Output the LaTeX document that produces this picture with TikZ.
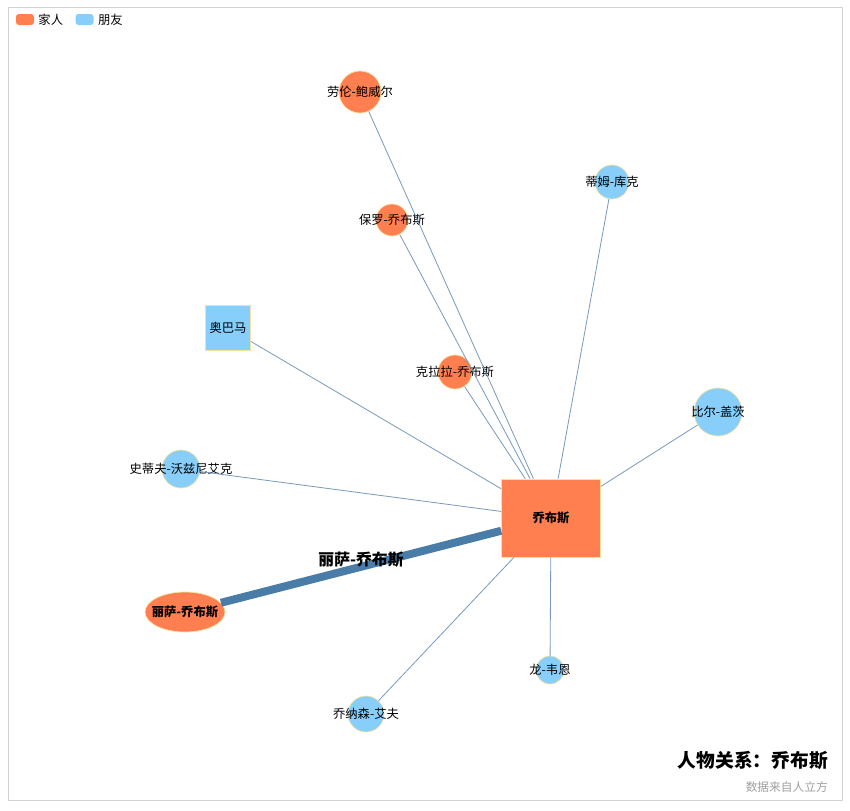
\documentclass[tikz,border=0pt]{standalone}
\usepackage{fontspec}
\newfontfamily\cjk{Noto Sans CJK SC}
\usetikzlibrary{shapes.geometric,positioning}
\definecolor{FamOrange}{HTML}{FF7F50}
\definecolor{FriendBlue}{HTML}{87CEFA}
\definecolor{NodeRim}{HTML}{F3E3A3}
\definecolor{LinkBlue}{HTML}{7A9BBB}
\definecolor{StrongBlue}{HTML}{4A7CA8}
\tikzset{
    person/.style = {circle, draw=NodeRim, line width=0.6pt, inner sep=0pt},
    family/.style = {person, fill=FamOrange},
    friend/.style = {person, fill=FriendBlue},
    lbl/.style = {font=\cjk\fontsize{10.5pt}{12pt}\selectfont, inner sep=0pt},
    boldlbl/.style = {font=\cjk\bfseries\fontsize{10.5pt}{12pt}\selectfont, inner sep=0pt},
    link/.style = {draw=LinkBlue, line width=0.7pt},
    strong/.style = {draw=StrongBlue, line width=6.8pt},
    legendkey/.style = {rectangle, rounded corners=2.5pt, minimum width=0.54cm, minimum height=0.33cm, inner sep=0pt}
}
\begin{document}
\begin{tikzpicture}[x=0.03cm, y=-0.03cm]
    \useasboundingbox (0,0) rectangle (850,810);
    \draw [gray!35, line width=0.6pt] (8,7) rectangle (842,800);
    % centre node
    \node [rectangle, fill=FamOrange, draw=NodeRim, line width=0.6pt, minimum width=2.97cm, minimum height=2.34cm, boldlbl] (jobs) at (551,518) {乔布斯};
    % family
    \node [family, minimum size=1.26cm, label={[lbl]center:劳伦-鲍威尔}] (laurene) at (360,92) {};
    \node [family, minimum size=0.96cm, label={[lbl]center:保罗-乔布斯}] (paul) at (392,220) {};
    \node [family, minimum size=1.02cm, label={[lbl]center:克拉拉-乔布斯}] (clara) at (455,372) {};
    \node [ellipse, fill=FamOrange, draw=NodeRim, line width=0.6pt, minimum width=2.4cm, minimum height=1.2cm, inner sep=0pt, label={[boldlbl]center:丽萨-乔布斯}] (lisa) at (185,612) {};
    % friends
    \node [friend, minimum size=1.02cm, label={[lbl]center:蒂姆-库克}] (tim) at (612,182) {};
    \node [rectangle, fill=FriendBlue, draw=NodeRim, line width=0.6pt, minimum size=1.35cm, inner sep=0pt, label={[lbl]center:奥巴马}] (obama) at (228,328) {};
    \node [friend, minimum size=1.44cm, label={[lbl]center:比尔-盖茨}] (bill) at (718,412) {};
    \node [friend, minimum size=1.14cm, label={[lbl]center:史蒂夫-沃兹尼艾克}] (woz) at (181,469) {};
    \node [friend, minimum size=0.84cm, label={[lbl]center:龙-韦恩}] (ron) at (550,670) {};
    \node [friend, minimum size=1.08cm, label={[lbl]center:乔纳森-艾夫}] (jony) at (366,714) {};
    % links
    \foreach \p in {laurene,paul,clara,tim,obama,bill,woz,ron,jony}{
        \draw [link] (\p) -- (jobs);
    }
    \draw [strong] (lisa) -- node [midway, yshift=0.21cm, font=\cjk\bfseries\fontsize{13.5pt}{15pt}\selectfont, inner sep=0pt] (lisalbl) {丽萨-乔布斯} (jobs);
    % legend
    \node [legendkey, fill=FamOrange] (keyfam) at (25,19.5) {};
    \node [lbl, right=0.12cm of keyfam] (txtfam) {家人};
    \node [legendkey, fill=FriendBlue, right=0.36cm of txtfam] (keyfriend) {};
    \node [lbl, right=0.12cm of keyfriend] (txtfriend) {朋友};
    % title
    \node [anchor=east, inner sep=0pt, font=\cjk\bfseries\fontsize{16pt}{18pt}\selectfont] (title) at (828,761) {人物关系：乔布斯};
    \node [anchor=east, inner sep=0pt, text=gray!75, font=\cjk\fontsize{10pt}{12pt}\selectfont] (source) at (828,787) {数据来自人立方};
\end{tikzpicture}
\end{document}
